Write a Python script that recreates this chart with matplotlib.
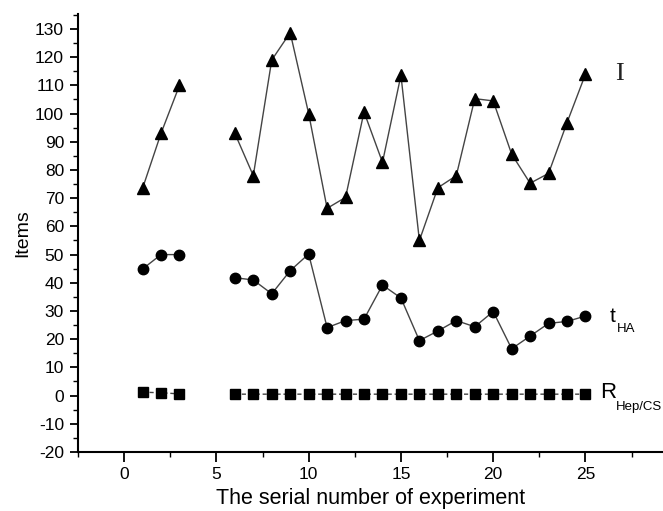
import numpy as np
import matplotlib.pyplot as plt
from matplotlib.ticker import MultipleLocator

plt.rcParams['font.family'] = ['Liberation Sans', 'DejaVu Sans']
plt.rcParams['axes.unicode_minus'] = False

nan = np.nan
experiment = np.arange(1, 26)
intensity = [73.5, 93, 110, nan, nan, 93, 78, 119, 128.7, 100, 66.4,
             70.3, 100.6, 82.7, 113.6, 55, 73.7, 78, 105.3, 104.5, 85.6,
             75.3, 78.8, 96.8, 114]
t_ha = [44.9, 50, 50, nan, nan, 41.8, 41, 36.1, 44.3, 50.2, 24.1,
        26.6, 27.1, 39.2, 34.6, 19.5, 22.9, 26.6, 24.4, 29.8, 16.6,
        21.1, 25.6, 26.3, 28.2]
r_hep_cs = [1.2, 1, 0.6, nan, nan, 0.5, 0.5, 0.5, 0.5, 0.5, 0.5,
            0.5, 0.5, 0.5, 0.5, 0.5, 0.5, 0.5, 0.5, 0.5, 0.5,
            0.5, 0.5, 0.5, 0.5]

fig = plt.figure(figsize=(6.63, 5.11), dpi=100)
ax = fig.add_axes([0.1176, 0.1155, 0.8824, 0.857])

line_kw = dict(color='#444444', linewidth=1.0, markerfacecolor='black',
               markeredgecolor='black')
ax.plot(experiment, intensity, marker='^', markersize=9, **line_kw)
ax.plot(experiment, t_ha, marker='o', markersize=7.5, **line_kw)
ax.plot(experiment, r_hep_cs, marker='s', markersize=7, linestyle=(0, (3, 2)), **line_kw)

# series labels on the right, subscripts placed by hand
ax.text(26.6, 114, 'I', family='Liberation Serif', fontsize=19, va='center', color='#222222')
ax.text(26.3, 28, 't', fontsize=15, va='center')
ax.annotate('HA', (26.3, 28), xytext=(5, -9), textcoords='offset points',
            fontsize=9.5, va='center')
ax.text(25.8, 1, 'R', fontsize=16, va='center')
ax.annotate('Hep/CS', (25.8, 1), xytext=(11, -10), textcoords='offset points',
            fontsize=9.5, va='center')

ax.set_xlim(-2.5, 29.2)
ax.set_ylim(-20, 135.3)
ax.xaxis.set_major_locator(MultipleLocator(5))
ax.xaxis.set_minor_locator(MultipleLocator(2.5))
ax.yaxis.set_major_locator(MultipleLocator(10))
ax.yaxis.set_minor_locator(MultipleLocator(5))
ax.tick_params(which='major', direction='out', length=6, width=1.3, labelsize=12.5)
ax.tick_params(which='minor', direction='out', length=3.5, width=1.0)
ax.tick_params(axis='x', which='major', length=7, pad=4)
ax.tick_params(axis='y', pad=4)

for side in ['top', 'right']:
    ax.spines[side].set_visible(False)
for side in ['left', 'bottom']:
    ax.spines[side].set_linewidth(1.5)

ax.set_xlabel('The serial number of experiment', fontsize=15.5, labelpad=4)
ax.set_ylabel('Items', fontsize=14, labelpad=3)

fig.savefig('out.png', dpi=100)
